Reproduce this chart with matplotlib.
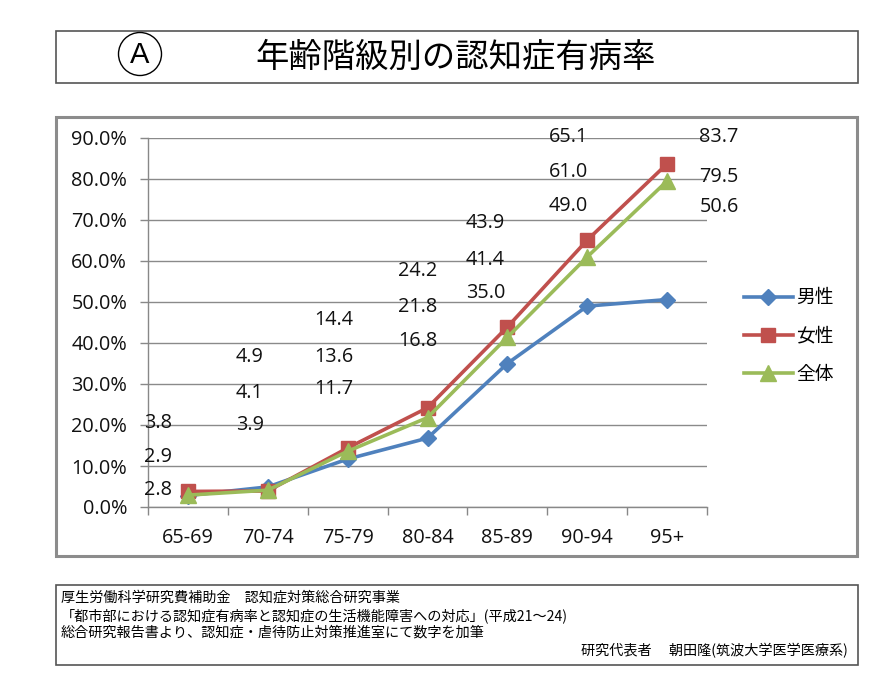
import matplotlib
matplotlib.use("Agg")
import matplotlib.pyplot as plt
from matplotlib.patches import Rectangle, Ellipse

plt.rcParams['font.family'] = ['Noto Sans CJK JP', 'DejaVu Sans']

# ---- data ----
categories = ["65-69", "70-74", "75-79", "80-84", "85-89", "90-94", "95+"]
male = [2.8, 4.9, 11.7, 16.8, 35.0, 49.0, 50.6]
female = [3.8, 3.9, 14.4, 24.2, 43.9, 65.1, 83.7]
total = [2.9, 4.1, 13.6, 21.8, 41.4, 61.0, 79.5]
series_names = ["男性", "女性", "全体"]
y_ticks = [0, 10, 20, 30, 40, 50, 60, 70, 80, 90]

# manual label placement (x in category units, y in data units): female, total, male rows
label_x = [-0.375, 0.775, 1.825, 2.875, 3.725, 4.76, 6.65]
label_y_female = [20.5, 20.1, 45.7, 57.5, 69.2, 90.2, 90.2]
label_y_total = [12.2, 27.9, 36.7, 48.7, 60.2, 81.7, 80.5]
label_y_male = [4.2, 36.7, 28.9, 40.6, 52.3, 73.4, 73.1]

title = "年齢階級別の認知症有病率"
footer_lines = [
    "厚生労働科学研究費補助金　認知症対策総合研究事業",
    "「都市部における認知症有病率と認知症の生活機能障害への対応」(平成21～24)",
    "総合研究報告書より、認知症・虐待防止対策推進室にて数字を加筆",
]
footer_sign = "研究代表者　 朝田隆(筑波大学医学医療系)"

NUM_FONT = ['Open Sans', 'DejaVu Sans']
NUM_SIZE = 14.3

W, H = 893, 675
fig = plt.figure(figsize=(W / 100, H / 100), dpi=100)

def fx(px):
    return px / W

def fy(py):
    return 1 - py / H

# ---- boxes ----
fig.patches.append(Rectangle((fx(56), fy(83)), fx(858) - fx(56), fy(31) - fy(83),
                             transform=fig.transFigure, fill=False,
                             edgecolor='#555555', linewidth=1.2))
fig.patches.append(Rectangle((fx(56), fy(556)), fx(857) - fx(56), fy(117) - fy(556),
                             transform=fig.transFigure, fill=False,
                             edgecolor='#8c8c8c', linewidth=2.2))
fig.patches.append(Rectangle((fx(56), fy(665)), fx(858) - fx(56), fy(585) - fy(665),
                             transform=fig.transFigure, fill=False,
                             edgecolor='#555555', linewidth=1.2))

# title
fig.patches.append(Ellipse((fx(140), fy(54)), fx(43), 43 / H, transform=fig.transFigure,
                           fill=False, edgecolor='black', linewidth=1.0))
fig.text(fx(140), fy(55), "A", ha='center', va='center', fontsize=21,
         family=['Liberation Sans', 'DejaVu Sans'])
fig.text(fx(456), fy(57), title, ha='center', va='center', fontsize=24)

# footer
for i, line in enumerate(footer_lines):
    fig.text(fx(61), fy(598 + 17.5 * i), line, ha='left', va='center', fontsize=10.2)
fig.text(fx(848), fy(651), footer_sign, ha='right', va='center', fontsize=10.2)

# ---- chart ----
ax = fig.add_axes([fx(148), fy(507), fx(707) - fx(148), fy(138) - fy(507)])
x = list(range(len(categories)))
colors = ['#4F81BD', '#C0504D', '#9BBB59']
markers = ['D', 's', '^']
msizes = [8.5, 10.5, 11.5]
for vals, c, m, ms, name in zip([male, female, total], colors, markers, msizes, series_names):
    ax.plot(x, vals, color=c, marker=m, markersize=ms, linewidth=2.6,
            markeredgecolor=c, label=name, zorder=3, clip_on=False)

ax.set_xlim(-0.5, len(categories) - 0.5)
ax.set_ylim(0, 90)
ax.set_yticks(y_ticks)
ax.set_yticklabels([f"{v:.1f}%" for v in y_ticks])
ax.set_xticks(x)
ax.set_xticklabels(categories)
ax.set_xticks([i - 0.5 for i in range(len(categories) + 1)], minor=True)
ax.tick_params(axis='x', which='major', length=0, pad=15)
ax.tick_params(axis='x', which='minor', length=6, color='#888888', width=1)
ax.tick_params(axis='y', length=6, color='#888888', width=1, pad=9)
for lab in ax.get_xticklabels() + ax.get_yticklabels():
    lab.set_family(NUM_FONT)
    lab.set_fontsize(NUM_SIZE)
    lab.set_color('#111111')
ax.grid(axis='y', color='#8a8a8a', linewidth=1)
ax.set_axisbelow(True)
for s in ['top', 'right']:
    ax.spines[s].set_visible(False)
for s in ['left', 'bottom']:
    ax.spines[s].set_color('#888888')
    ax.spines[s].set_linewidth(1)

for vals, ys in [(female, label_y_female), (total, label_y_total), (male, label_y_male)]:
    for lx, ly, v in zip(label_x, ys, vals):
        ax.text(lx, ly, f"{v:.1f}", ha='center', va='center', fontsize=NUM_SIZE,
                family=NUM_FONT, color='#111111', clip_on=False)

leg = fig.legend(handles=ax.get_lines(), labels=series_names,
                 loc='center left', bbox_to_anchor=(fx(727), fy(336)),
                 frameon=False, fontsize=13.5, handlelength=2.6, handletextpad=0.2,
                 labelspacing=0.92)

fig.savefig("out.png", dpi=100)
